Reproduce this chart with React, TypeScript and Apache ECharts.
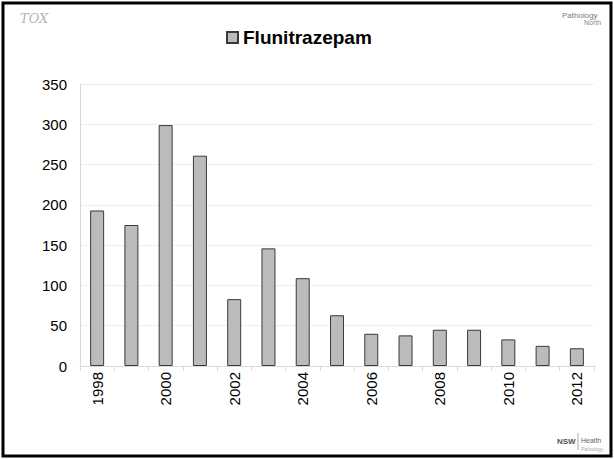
import React, { useEffect, useRef } from "react";
import * as echarts from "echarts";

const years = ["1998","1999","2000","2001","2002","2003","2004","2005","2006","2007","2008","2009","2010","2011","2012"];
const flunitrazepam = [193, 175, 299, 261, 83, 146, 109, 63, 40, 38, 45, 45, 33, 25, 22];
const seriesName = "Flunitrazepam";

export default function App() {
  const ref = useRef<HTMLDivElement>(null);
  useEffect(() => {
    if (!ref.current) return;
    const chart = echarts.init(ref.current, null, { renderer: "svg" });
    chart.setOption({
      animation: false,
      backgroundColor: "#ffffff",
      textStyle: { fontFamily: "Liberation Sans, Arial, sans-serif" },
      legend: {
        data: [seriesName],
        top: 23,
        left: 221,
        icon: "rect",
        itemWidth: 11,
        itemHeight: 11,
        itemGap: 4,
        textStyle: { fontSize: 19, fontWeight: "bold", color: "#000", fontFamily: "Liberation Sans, Arial, sans-serif" },
      },
      grid: { left: 80, right: 20, top: 84, bottom: 93, containLabel: false },
      xAxis: {
        type: "category",
        data: years,
        axisLine: { show: true, lineStyle: { color: "#d9d9d9", width: 1 } },
        axisTick: { show: true, interval: 0, length: 5, lineStyle: { color: "#d9d9d9" } },
        axisLabel: { rotate: 90, interval: 1, fontSize: 15, color: "#000", margin: 6, fontFamily: "Liberation Sans, Arial, sans-serif" },
      },
      yAxis: {
        type: "value",
        min: 0,
        max: 350,
        interval: 50,
        axisLine: { show: true, lineStyle: { color: "#d9d9d9", width: 1 } },
        axisTick: { show: false },
        axisLabel: { fontSize: 15, color: "#000", margin: 13, fontFamily: "Liberation Sans, Arial, sans-serif" },
        splitLine: { show: true, lineStyle: { color: "#eeeeee", width: 1 } },
      },
      series: [
        {
          name: seriesName,
          type: "bar",
          data: flunitrazepam,
          barWidth: 14,
          itemStyle: { color: "#bbbbbb", borderColor: "#3a3a3a", borderWidth: 1 },
        },
      ],
      graphic: [
        {
          type: "rect",
          shape: { x: 3, y: 3, width: 608, height: 453 },
          style: { fill: "none", stroke: "#000", lineWidth: 3 },
          silent: true,
        },
        {
          type: "text",
          left: 20,
          top: 12,
          style: { text: "TOX", fontSize: 13, fontStyle: "italic", fill: "#b5b5b5", fontFamily: "DejaVu Serif, serif" },
        },
        {
          type: "text",
          left: 562,
          top: 11,
          style: { text: "Pathology", fontSize: 8, fill: "#777", fontFamily: "Liberation Sans, Arial, sans-serif" },
        },
        {
          type: "text",
          left: 584,
          top: 19,
          style: { text: "North", fontSize: 7, fill: "#888", fontFamily: "Liberation Sans, Arial, sans-serif" },
        },
        {
          type: "text",
          left: 557,
          top: 437,
          style: { text: "NSW", fontSize: 8, fontWeight: "bold", fill: "#555", fontFamily: "Liberation Sans, Arial, sans-serif" },
        },
        {
          type: "line",
          shape: { x1: 578, y1: 433, x2: 578, y2: 450 },
          style: { stroke: "#aaa", lineWidth: 1 },
        },
        {
          type: "text",
          left: 581,
          top: 437,
          style: { text: "Health", fontSize: 7, fill: "#666", fontFamily: "Liberation Sans, Arial, sans-serif" },
        },
        {
          type: "text",
          left: 581,
          top: 446,
          style: { text: "Pathology", fontSize: 5, fill: "#aaa", fontFamily: "Liberation Sans, Arial, sans-serif" },
        },
      ],
    });
    return () => chart.dispose();
  }, []);
  return <div ref={ref} style={{ width: 614, height: 459, position: "fixed", left: 0, top: 0 }} />;
}
